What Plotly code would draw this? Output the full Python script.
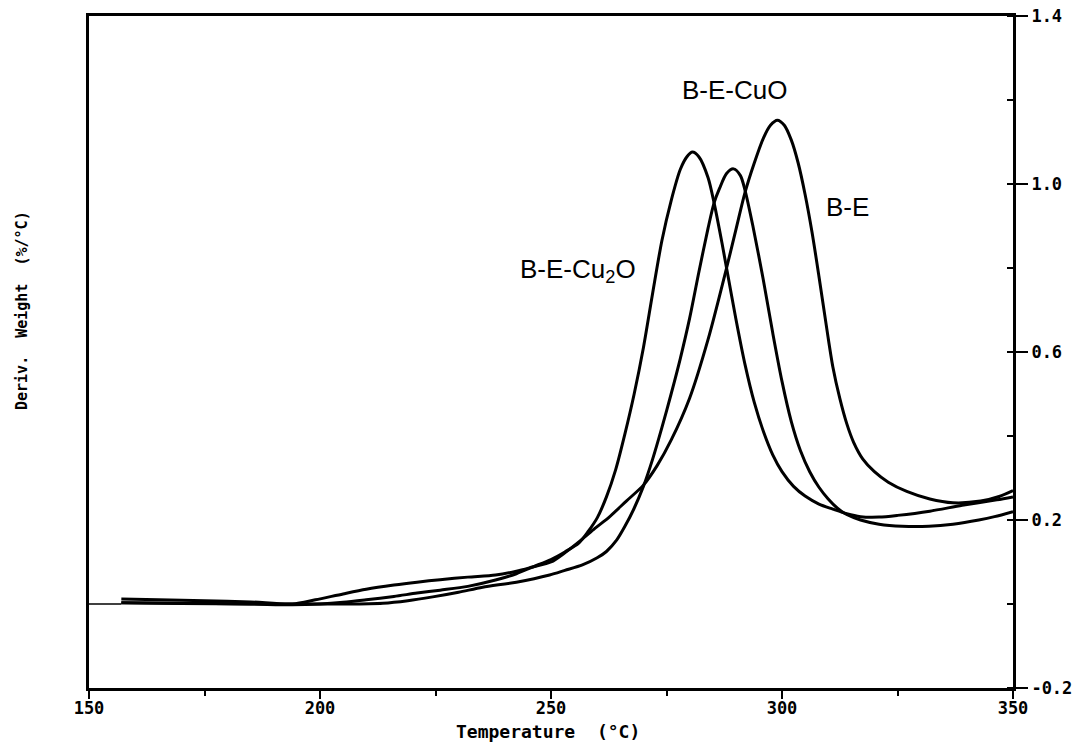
import plotly.graph_objects as go

# Derivative thermogravimetric curves (DTG), % weight loss per degree C
BE_TEMP = [157, 165, 175, 185, 194, 199, 205, 210, 216, 221, 226, 232, 238, 242.5, 246,
           250, 253, 256.5, 259.5, 262.6, 266.3, 270, 273, 276, 280, 284, 288, 290, 292,
           294, 296, 297.5, 299, 300.5, 302, 303.5, 305, 306.5, 308, 309.7, 311, 312.5,
           314, 315.5, 317.5, 320, 323, 327, 332, 337, 343, 347, 350]
BE_DTG = [0.012, 0.010, 0.008, 0.005, 0.000, 0.010, 0.024, 0.035, 0.045, 0.052, 0.058,
          0.064, 0.069, 0.078, 0.088, 0.100, 0.122, 0.152, 0.180, 0.207, 0.245, 0.283,
          0.330, 0.390, 0.490, 0.630, 0.800, 0.890, 0.980, 1.050, 1.110, 1.140, 1.152,
          1.140, 1.105, 1.050, 0.975, 0.885, 0.780, 0.655, 0.565, 0.490, 0.430, 0.385,
          0.345, 0.315, 0.290, 0.268, 0.250, 0.241, 0.245, 0.256, 0.270]

CUO_TEMP = [157, 170, 185, 195, 205, 213.6, 219, 224.4, 230, 235.2, 242.5, 249.7, 253,
            256.8, 260, 262, 264.2, 266, 268, 270, 272, 274, 276, 278, 280, 282, 284,
            285.3, 286.5, 288, 289.5, 291, 292, 293.7, 295.9, 298, 300, 302, 304, 306,
            308, 310, 312, 314, 317, 321, 326, 331.8, 337, 342.6, 346, 350]
CUO_DTG = [0.003, 0.001, 0.000, 0.000, 0.000, 0.002, 0.008, 0.017, 0.028, 0.040, 0.052,
           0.069, 0.080, 0.093, 0.110, 0.125, 0.152, 0.185, 0.228, 0.280, 0.345, 0.420,
           0.500, 0.585, 0.680, 0.790, 0.895, 0.955, 0.990, 1.025, 1.036, 1.020, 0.985,
           0.900, 0.775, 0.645, 0.530, 0.435, 0.365, 0.315, 0.278, 0.250, 0.228, 0.213,
           0.200, 0.190, 0.185, 0.185, 0.190, 0.200, 0.208, 0.220]

CU2O_TEMP = [157, 170, 185, 194, 200, 205, 210, 216, 221, 226, 232, 238, 242.5, 246, 250,
             253, 256, 258, 260, 262, 264, 266, 268, 270, 272, 274, 276, 278, 279.5,
             280.6, 282, 284, 285.3, 287, 288, 290, 292, 294, 296, 298, 300, 302.5, 305,
             308, 311, 314, 317, 321, 325, 332, 339, 346.5, 350]
CU2O_DTG = [0.003, 0.002, 0.000, -0.002, 0.000, 0.004, 0.010, 0.018, 0.026, 0.033, 0.042,
            0.057, 0.072, 0.088, 0.106, 0.124, 0.145, 0.172, 0.205, 0.255, 0.320, 0.405,
            0.500, 0.610, 0.740, 0.865, 0.960, 1.035, 1.066, 1.076, 1.065, 1.015, 0.955,
            0.860, 0.800, 0.680, 0.570, 0.480, 0.410, 0.355, 0.315, 0.280, 0.257, 0.238,
            0.226, 0.215, 0.208, 0.207, 0.211, 0.221, 0.235, 0.248, 0.255]

# Recorder zero line before the traces start
BASE_TEMP = [150, 157]
BASE_DTG = [0.0, 0.0]

Y_TICKS = [-0.2, 0.2, 0.6, 1.0, 1.4]
Y_TICK_TEXT = ["-0.2", "0.2", "0.6", "1.0", "1.4"]
X_TICKS = [150, 200, 250, 300, 350]

# Curve labels: (text, temperature, value)
LABELS = [
    ("B-E-CuO", 289.8, 1.224),
    ("B-E", 314.1, 0.945),
    ("B-E-Cu<sub>2</sub>O", 255.8, 0.795),
]

INK = "black"
TICK_FONT = dict(family="DejaVu Sans Mono", size=17, color=INK, weight="bold")

fig = go.Figure()
fig.add_trace(go.Scatter(x=BASE_TEMP, y=BASE_DTG, mode="lines",
                         line=dict(color=INK, width=1.6), showlegend=False, hoverinfo="skip"))
for name, tx, ty in [("B-E", BE_TEMP, BE_DTG),
                     ("B-E-CuO", CUO_TEMP, CUO_DTG),
                     ("B-E-Cu2O", CU2O_TEMP, CU2O_DTG)]:
    fig.add_trace(go.Scatter(x=tx, y=ty, mode="lines", name=name,
                             line=dict(color=INK, width=3, shape="spline", smoothing=0.8),
                             showlegend=False))

for text, lx, ly in LABELS:
    fig.add_annotation(x=lx, y=ly, xref="x", yref="y", text=text, showarrow=False,
                       font=dict(family="Liberation Sans", size=26, color=INK),
                       xanchor="center", yanchor="middle")

# Axis titles
fig.add_annotation(x=-0.0725, y=0.561, xref="paper", yref="paper",
                   text="Deriv.  Weight  (%/°C)", textangle=-90, showarrow=False,
                   font=dict(family="DejaVu Sans Mono", size=15, color=INK, weight="bold"),
                   xanchor="center", yanchor="middle")
fig.add_annotation(x=0.497, y=-0.064, xref="paper", yref="paper",
                   text="Temperature  (°C)", showarrow=False,
                   font=dict(family="DejaVu Sans Mono", size=18, color=INK, weight="bold"),
                   xanchor="center", yanchor="middle")

fig.update_layout(
    width=1079, height=742,
    margin=dict(l=89, r=66, t=16, b=54),
    paper_bgcolor="white", plot_bgcolor="white",
    showlegend=False,
    xaxis=dict(
        range=[150, 350], tickvals=X_TICKS, ticks="outside", ticklen=8, tickwidth=2,
        tickcolor=INK, showgrid=False, zeroline=False, showline=True, linewidth=3,
        linecolor=INK, mirror=True, tickfont=TICK_FONT, automargin=False,
        ticklabelstandoff=-5,
        minor=dict(ticks="outside", dtick=25, tick0=150, ticklen=5, tickwidth=2,
                   tickcolor=INK, showgrid=False),
    ),
    yaxis=dict(
        range=[-0.2, 1.4], side="right", tickvals=Y_TICKS, ticktext=Y_TICK_TEXT,
        ticks="outside", ticklen=12, tickwidth=2, tickcolor=INK, showgrid=False,
        zeroline=False, showline=True, linewidth=3, linecolor=INK, mirror=True,
        tickfont=TICK_FONT, automargin=False,
        minor=dict(ticks="inside", dtick=0.2, tick0=0, ticklen=6, tickwidth=2,
                   tickcolor=INK, showgrid=False),
    ),
)

fig.write_html("out.html")
